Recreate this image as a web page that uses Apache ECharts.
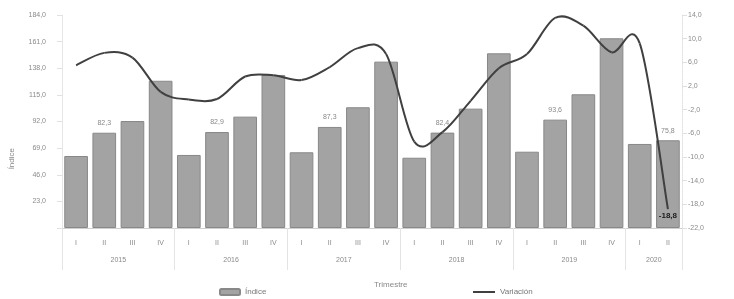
<!DOCTYPE html>
<html>
<head>
<meta charset="utf-8">
<script src="https://cdn.jsdelivr.net/npm/echarts@6/dist/echarts.min.js"></script>
<style>
  html, body { margin: 0; padding: 0; background: #fff; }
  #chart { width: 734px; height: 299px; }
</style>
</head>
<body>
<div id="chart"></div>
<script>
// quarters (x axis, level 1) and years (level 2)
var quarters = ['I','II','III','IV','I','II','III','IV','I','II','III','IV',
                'I','II','III','IV','I','II','III','IV','I','II'];
var years = ['2015','2016','2017','2018','2019','2020'];
var yearCenters = [2, 6, 10, 14, 18, 21];
var yearBreaks = [0, 4, 8, 12, 16, 20, 22];

// Índice (bars, left axis)
var indice = [62.2, 82.3, 92.4, 127.2,
              63.1, 82.9, 96.2, 132.2,
              65.4, 87.3, 104.3, 143.7,
              60.7, 82.4, 103.1, 150.9,
              65.9, 93.6, 115.5, 163.9,
              72.6, 75.8];
// Variación % (line, right axis)
var variacion = [5.5, 7.6, 6.8, 1.0,
                 -0.3, -0.2, 3.6, 3.8,
                 3.0, 5.2, 8.4, 7.4,
                 -7.4, -5.8, -0.5, 5.0,
                 7.4, 13.5, 12.2, 7.7,
                 9.2, -18.8];

var leftTicks = [23, 46, 69, 92, 115, 138, 161, 184];
var rightTicks = [-22, -18, -14, -10, -6, -2, 2, 6, 10, 14];
var labeledBars = [1, 5, 9, 13, 17, 21];

function fmt(v) { return v.toFixed(1).replace('.', ','); }

var lineColor = '#404040';

// smoothed line like the spreadsheet one (cardinal spline through the points)
function renderVariacion(params, api) {
  var i = params.dataIndex, n = variacion.length;
  var P = function (k) {
    k = Math.max(0, Math.min(n - 1, k));
    return api.coord([k, variacion[k]]);
  };
  var p0 = P(i - 1), p1 = P(i), p2 = P(i + 1), p3 = P(i + 2);
  var children = [];
  if (i < n - 1) {
    children.push({
      type: 'bezierCurve',
      shape: {
        x1: p1[0], y1: p1[1], x2: p2[0], y2: p2[1],
        cpx1: p1[0] + (p2[0] - p0[0]) / 6, cpy1: p1[1] + (p2[1] - p0[1]) / 6,
        cpx2: p2[0] - (p3[0] - p1[0]) / 6, cpy2: p2[1] - (p3[1] - p1[1]) / 6
      },
      style: { stroke: lineColor, lineWidth: 2, fill: null }
    });
  } else {
    children.push({
      type: 'text',
      x: p1[0], y: p1[1] + 3,
      style: { text: fmt(variacion[i]), align: 'center', verticalAlign: 'top',
               fontSize: 8, fontWeight: 'bold', fill: '#1a1a1a' }
    });
  }
  return { type: 'group', children: children };
}

var chart = echarts.init(document.getElementById('chart'));
var gray = '#8a8a8a';
var faint = '#d6d6d6';

chart.setOption({
  animation: false,
  textStyle: { fontFamily: 'Liberation Sans, Arial, sans-serif' },
  grid: { left: 62, right: 52, top: 15, bottom: 71 },
  legend: [
    { data: ['Índice'], left: 219, top: 288, padding: 0, itemGap: 0,
      itemWidth: 20, itemHeight: 6,
      textStyle: { fontSize: 8, color: '#777' } },
    { data: [{ name: 'Variación', itemStyle: { color: lineColor } }],
      left: 473, top: 288, padding: 0, itemWidth: 22, itemHeight: 2, icon: 'rect',
      textStyle: { fontSize: 8, color: '#777' } }
  ],
  graphic: [
    { type: 'text', left: 8, top: 148, rotation: Math.PI / 2,
      style: { text: 'Índice', fontSize: 8, fill: '#888' } },
    { type: 'text', left: 374, top: 281,
      style: { text: 'Trimestre', fontSize: 8, fill: '#888' } }
  ],
  xAxis: [
    {
      type: 'category',
      data: quarters,
      axisLine: { onZero: false, lineStyle: { color: '#cfcfcf' } },
      axisTick: { interval: 0, length: 8, lineStyle: { color: faint } },
      axisLabel: { interval: 0, fontSize: 7, color: gray, margin: 12 }
    },
    {
      type: 'value',
      min: 0, max: 22,
      position: 'bottom',
      axisLine: { show: false, onZero: false },
      splitLine: { show: false },
      axisTick: { show: true, customValues: yearBreaks, length: 42,
                  lineStyle: { color: '#e4e4e4' } },
      axisLabel: { customValues: yearCenters, margin: 29, fontSize: 7, color: gray,
                   formatter: function (v) { return years[yearCenters.indexOf(v)]; } }
    }
  ],
  yAxis: [
    {
      type: 'value',
      min: 0, max: 184, interval: 23,
      splitLine: { show: false },
      axisLine: { show: true, lineStyle: { color: '#e6e6e6' } },
      axisTick: { show: true, lineStyle: { color: '#e0e0e0' } },
      axisLabel: { fontSize: 7, color: gray, margin: 16,
                   customValues: leftTicks,
                   formatter: function (v) { return fmt(v); } }
    },
    {
      type: 'value',
      min: -22, max: 14,
      splitLine: { show: false },
      axisLine: { show: true, lineStyle: { color: '#e0e0e0', type: 'dotted' } },
      axisTick: { show: true, customValues: rightTicks, lineStyle: { color: '#e0e0e0' } },
      axisLabel: { fontSize: 7, color: gray, margin: 6,
                   customValues: rightTicks,
                   formatter: function (v) { return fmt(v); } }
    }
  ],
  series: [
    {
      name: 'Índice',
      type: 'bar',
      data: indice,
      barCategoryGap: '16%',
      itemStyle: { color: '#a3a3a3', borderColor: '#888', borderWidth: 1 },
      label: {
        show: true, position: 'top', fontSize: 7, color: '#888', distance: 6,
        formatter: function (p) { return labeledBars.indexOf(p.dataIndex) >= 0 ? fmt(p.value) : ''; }
      }
    },
    {
      name: 'Variación',
      type: 'custom',
      xAxisIndex: 0,
      yAxisIndex: 1,
      data: variacion.map(function (v, i) { return [i, v]; }),
      encode: { x: 0, y: 1 },
      itemStyle: { color: lineColor },
      renderItem: renderVariacion,
      z: 3
    }
  ]
});

window.addEventListener('resize', function () {
  chart.resize();
});
</script>
</body>
</html>
